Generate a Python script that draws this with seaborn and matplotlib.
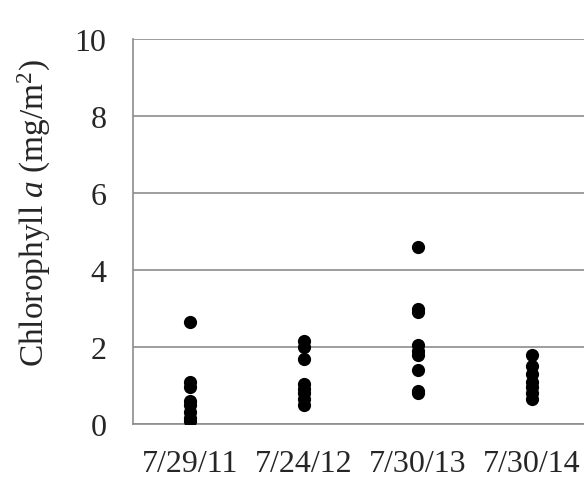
import numpy as np
import pandas as pd
import matplotlib
matplotlib.use("Agg")
import matplotlib.pyplot as plt
import seaborn as sns

# data
dates = ["7/29/11", "7/24/12", "7/30/13", "7/30/14"]
chl_2011 = [2.65, 1.1, 0.95, 0.6, 0.5, 0.3, 0.15, 0.08]
chl_2012 = [2.15, 2.0, 1.7, 1.05, 0.9, 0.8, 0.65, 0.5]
chl_2013 = [4.6, 3.0, 2.9, 2.05, 1.9, 1.8, 1.4, 0.85, 0.8]
chl_2014 = [1.8, 1.5, 1.3, 1.1, 0.95, 0.8, 0.65]

rows = []
for d, vals in zip(dates, [chl_2011, chl_2012, chl_2013, chl_2014]):
    for v in vals:
        rows.append([d, v])
df = pd.DataFrame(rows, columns=["date", "chl"])

sns.set_style("white")
plt.rcParams['font.family'] = ['Liberation Serif', 'DejaVu Serif']
plt.rcParams['mathtext.fontset'] = 'custom'
plt.rcParams['mathtext.rm'] = 'Liberation Serif'
plt.rcParams['mathtext.it'] = 'Liberation Serif:italic'

fig = plt.figure(figsize=(5.84, 4.81), dpi=100)
ax = fig.add_axes([0.2277, 0.1164, 0.7809, 0.8004])

sns.stripplot(data=df, x="date", y="chl", order=dates, jitter=False,
              color="black", size=9.5, ax=ax, zorder=3)

ax.set_xlim(-0.5, 3.5)
ax.set_ylim(0, 10)
ax.set_yticks([0, 2, 4, 6, 8, 10])
ax.yaxis.grid(True, color="#8c8c8c", linewidth=1.2)
ax.set_axisbelow(True)
for s in ["top", "right"]:
    ax.spines[s].set_visible(False)
ax.spines["left"].set_color("#8c8c8c")
ax.spines["bottom"].set_color("#8c8c8c")
ax.spines["left"].set_linewidth(1.2)
ax.spines["bottom"].set_linewidth(1.2)
ax.tick_params(axis="y", direction="out", length=7, color="#8c8c8c", labelsize=23, pad=12)
ax.tick_params(axis="x", length=0, labelsize=23, pad=18)

ax.set_xlabel("")
ax.set_ylabel(r"Chlorophyll $\it{a}$ (mg/m$^2$)", fontsize=24)
ax.yaxis.set_label_coords(-0.175, 0.55)

plt.savefig("out.png", dpi=100)
